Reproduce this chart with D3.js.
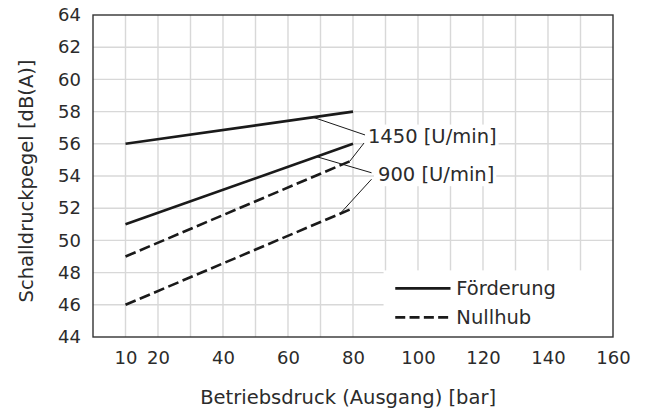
<!DOCTYPE html>
<html>
<head>
<meta charset="utf-8">
<script src="https://cdn.jsdelivr.net/npm/d3@7"></script>
<style>
  html, body { margin: 0; padding: 0; background: #fff; }
  svg { display: block; font-family: "DejaVu Sans", sans-serif; }
</style>
</head>
<body>
<svg id="chart" width="646" height="413"></svg>
<script>
// ---- data ----
const pressure = [10, 80];                 // Betriebsdruck [bar]
const foerderung1450 = [56, 58];
const foerderung900 = [51, 56];
const nullhub1450 = [49, 55];
const nullhub900 = [46, 52];
const xTickValues = [10, 20, 40, 60, 80, 100, 120, 140, 160];
const yTickValues = [44, 46, 48, 50, 52, 54, 56, 58, 60, 62, 64];
const xGridValues = d3.range(10, 160, 10);
const legendLabels = ["Förderung", "Nullhub"];
const speedLabels = ["1450 [U/min]", "900 [U/min]"];
const xTitle = "Betriebsdruck (Ausgang) [bar]";
const yTitle = "Schalldruckpegel [dB(A)]";

// ---- layout ----
const W = 646, H = 413;
const FONT = '"DejaVu Sans", sans-serif';
const m = { left: 93, top: 15, right: 33, bottom: 76 };
const pw = W - m.left - m.right, ph = H - m.top - m.bottom;
const svg = d3.select("#chart");
const g = svg.append("g").attr("transform", `translate(${m.left},${m.top})`);

const x = d3.scaleLinear().domain([0, 160]).range([0, pw]);
const y = d3.scaleLinear().domain([44, 64]).range([ph, 0]);

const gridColor = "#d8d8d8";
const textColor = "#2b2b2b";
const tickSize = 18;
const textSize = 19.5;

// grid
g.append("g").selectAll("line").data(xGridValues).join("line")
  .attr("x1", d => x(d)).attr("x2", d => x(d)).attr("y1", 0).attr("y2", ph)
  .attr("stroke", gridColor).attr("stroke-width", 1.4);
g.append("g").selectAll("line").data(yTickValues.slice(1, -1)).join("line")
  .attr("x1", 0).attr("x2", pw).attr("y1", d => y(d)).attr("y2", d => y(d))
  .attr("stroke", gridColor).attr("stroke-width", 1.4);

// axes (labels only)
const xAxis = d3.axisBottom(x).tickValues(xTickValues).tickSize(0).tickPadding(14).tickFormat(d3.format("d"));
const xa = g.append("g").attr("transform", `translate(0,${ph})`).call(xAxis);
const yAxis = d3.axisLeft(y).tickValues(yTickValues).tickSize(0).tickPadding(12).tickFormat(d3.format("d"));
const ya = g.append("g").call(yAxis);
[xa, ya].forEach(a => {
  a.select(".domain").remove();
  a.selectAll("text").attr("font-size", tickSize).attr("fill", textColor)
    .attr("font-family", FONT);
});

// data lines
const series = [
  { v: foerderung1450, dash: null },
  { v: foerderung900, dash: null },
  { v: nullhub1450, dash: "11,4.5" },
  { v: nullhub900, dash: "11,4.5" }
];
const line = d3.line().x(d => x(d[0])).y(d => y(d[1]));
series.forEach(s => {
  g.append("path").datum(pressure.map((p, i) => [p, s.v[i]]))
    .attr("d", line).attr("fill", "none").attr("stroke", "#1a1a1a")
    .attr("stroke-width", 2.6).attr("stroke-dasharray", s.dash);
});

// annotation labels with white boxes
const at = (arr, p) => arr[0] + (arr[1] - arr[0]) * (p - pressure[0]) / (pressure[1] - pressure[0]);
const labelPos = [[84.6, 56.5], [87.7, 54.1]];
const boxG = g.append("g");
const txtG = g.append("g");
const bbs = speedLabels.map((t, i) => {
  const tx = txtG.append("text").attr("x", x(labelPos[i][0])).attr("y", y(labelPos[i][1]))
    .attr("dy", "0.35em").attr("font-size", textSize).attr("fill", textColor).text(t);
  return tx.node().getBBox();
});
bbs.forEach((b, i) => {
  const top = i === 0 ? b.y : bbs[0].y + bbs[0].height;
  const bottom = i === 0 ? b.y + b.height + 1 : b.y + b.height;
  boxG.append("rect")
    .attr("x", b.x - 4).attr("y", top).attr("width", b.width + 6).attr("height", bottom - top)
    .attr("fill", "#fff");
});

// leader lines
const leaders = [
  [[67.7, at(foerderung1450, 67.7)], [83.7, 56.55]],
  [[79, at(nullhub1450, 79)], [83.4, 56.05]],
  [[68.8, at(foerderung900, 68.8)], [85.7, 54.2]],
  [[76, at(nullhub900, 76)], [85.7, 53.8]]
];
leaders.forEach(l => {
  g.append("line").attr("x1", x(l[0][0])).attr("y1", y(l[0][1]))
    .attr("x2", x(l[1][0])).attr("y2", y(l[1][1]))
    .attr("stroke", "#1a1a1a").attr("stroke-width", 1);
});

// legend
const lg = g.append("g");
lg.append("rect").attr("x", x(89.4)).attr("y", y(48.2) + 1)
  .attr("width", pw - x(89.4)).attr("height", ph - y(48.2) - 1).attr("fill", "#fff");
legendLabels.forEach((t, i) => {
  const yy = y(48.2) + 19 + i * 29;
  lg.append("line").attr("x1", x(93)).attr("x2", x(110)).attr("y1", yy).attr("y2", yy)
    .attr("stroke", "#1a1a1a").attr("stroke-width", 2.6)
    .attr("stroke-dasharray", i === 1 ? "10,4.3" : null);
  lg.append("text").attr("x", x(111.8)).attr("y", yy).attr("dy", "0.35em")
    .attr("font-size", textSize).attr("fill", textColor).text(t);
});

// frame
g.append("rect").attr("x", 0).attr("y", 0).attr("width", pw).attr("height", ph)
  .attr("fill", "none").attr("stroke", "#333").attr("stroke-width", 1.4);

// axis titles
svg.append("text").attr("x", m.left + x(78.5)).attr("y", 397).attr("dy", "0.35em")
  .attr("text-anchor", "middle").attr("font-size", textSize).attr("fill", textColor).text(xTitle);
svg.append("text").attr("transform", `translate(26,${m.top + ph / 2 + 5}) rotate(-90)`)
  .attr("dy", "0.35em").attr("text-anchor", "middle")
  .attr("font-size", textSize).attr("fill", textColor).text(yTitle);
</script>
</body>
</html>
